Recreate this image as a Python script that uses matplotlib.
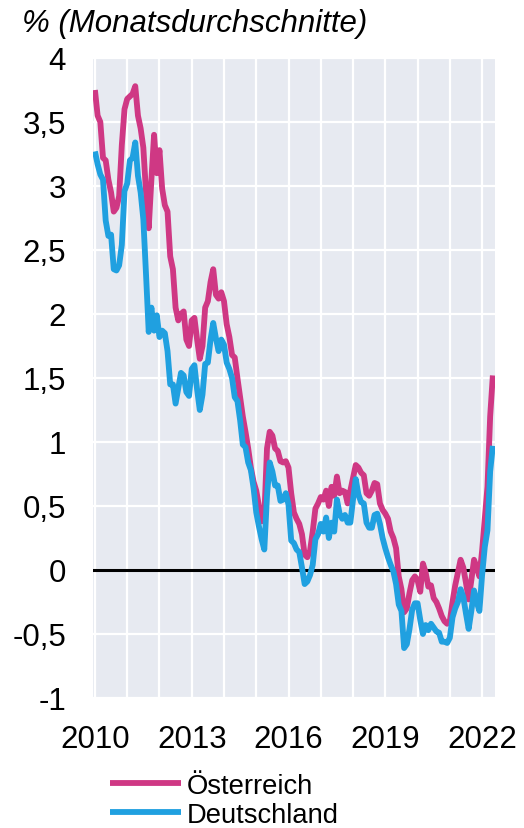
import matplotlib.pyplot as plt
import numpy as np

# Rendite 10-jähriger Staatsanleihen, Monatsdurchschnitte Jan 2010 - Mai 2022
oesterreich = [
    3.75, 3.55, 3.50, 3.22, 3.20, 3.05, 2.95, 2.80, 2.83, 2.92, 3.32, 3.60,   # 2010
    3.68, 3.70, 3.72, 3.78, 3.55, 3.45, 3.30, 2.95, 2.67, 3.05, 3.40, 3.10,   # 2011
    3.28, 2.98, 2.85, 2.80, 2.45, 2.35, 2.05, 1.95, 2.00, 2.02, 1.80, 1.75,   # 2012
    1.95, 1.97, 1.80, 1.65, 1.75, 2.05, 2.10, 2.25, 2.35, 2.15, 2.12, 2.17,   # 2013
    2.10, 1.92, 1.82, 1.68, 1.66, 1.50, 1.35, 1.20, 1.08, 0.95, 0.80, 0.69,   # 2014
    0.62, 0.50, 0.38, 0.42, 0.95, 1.08, 1.05, 0.95, 0.93, 0.85, 0.84, 0.85,   # 2015
    0.80, 0.60, 0.45, 0.40, 0.36, 0.28, 0.12, 0.10, 0.15, 0.30, 0.48, 0.52,   # 2016
    0.57, 0.55, 0.62, 0.50, 0.65, 0.58, 0.73, 0.60, 0.62, 0.61, 0.52, 0.62,   # 2017
    0.72, 0.82, 0.80, 0.76, 0.74, 0.60, 0.58, 0.62, 0.68, 0.67, 0.52, 0.47,   # 2018
    0.44, 0.40, 0.30, 0.25, 0.17, -0.05, -0.15, -0.33, -0.30, -0.18, -0.08, -0.05,  # 2019
    -0.08, -0.17, 0.05, -0.02, -0.13, -0.12, -0.22, -0.25, -0.30, -0.36, -0.40, -0.42,  # 2020
    -0.40, -0.25, -0.12, -0.02, 0.08, 0.02, -0.10, -0.23, -0.08, 0.08, 0.02, -0.05,  # 2021
    0.15, 0.40, 0.65, 1.20, 1.52,                                              # 2022
]
deutschland = [
    3.27, 3.17, 3.09, 3.05, 2.73, 2.61, 2.62, 2.35, 2.34, 2.38, 2.54, 2.96,   # 2010
    3.02, 3.20, 3.22, 3.34, 3.08, 2.95, 2.74, 2.31, 1.86, 2.05, 1.87, 1.99,   # 2011
    1.82, 1.87, 1.85, 1.71, 1.45, 1.45, 1.30, 1.42, 1.54, 1.52, 1.39, 1.36,   # 2012
    1.57, 1.60, 1.41, 1.25, 1.37, 1.61, 1.62, 1.80, 1.93, 1.81, 1.71, 1.80,   # 2013
    1.76, 1.62, 1.57, 1.50, 1.35, 1.32, 1.17, 0.98, 0.96, 0.84, 0.78, 0.64,   # 2014
    0.45, 0.34, 0.24, 0.16, 0.58, 0.84, 0.77, 0.66, 0.66, 0.54, 0.55, 0.60,   # 2015
    0.51, 0.23, 0.21, 0.16, 0.14, 0.02, -0.11, -0.09, -0.04, 0.04, 0.24, 0.28,  # 2016
    0.36, 0.30, 0.41, 0.25, 0.37, 0.30, 0.55, 0.44, 0.40, 0.43, 0.37, 0.37,   # 2017
    0.55, 0.71, 0.59, 0.53, 0.52, 0.37, 0.33, 0.33, 0.43, 0.44, 0.36, 0.25,   # 2018
    0.17, 0.10, 0.04, -0.01, -0.11, -0.27, -0.32, -0.61, -0.58, -0.46, -0.31, -0.26,  # 2019
    -0.26, -0.39, -0.50, -0.43, -0.47, -0.42, -0.45, -0.48, -0.49, -0.56, -0.56, -0.57,  # 2020
    -0.53, -0.37, -0.30, -0.25, -0.15, -0.21, -0.34, -0.46, -0.32, -0.16, -0.25, -0.32,  # 2021
    -0.04, 0.18, 0.31, 0.77, 0.97,                                             # 2022
]
start_jahr = 2010
jahre_beschriftet = [2010, 2013, 2016, 2019, 2022]
y_ticks = [4, 3.5, 3, 2.5, 2, 1.5, 1, 0.5, 0, -0.5, -1]

t = start_jahr + np.arange(len(oesterreich)) / 12.0

plt.rcParams['font.family'] = ['Liberation Sans', 'DejaVu Sans']

W, H = 524, 829
fig = plt.figure(figsize=(W / 100, H / 100), dpi=100)
ax = fig.add_axes([93 / W, (H - 699) / H, (495 - 93) / W, (699 - 59) / H])
ax.set_facecolor('#E7EAF1')
for s in ax.spines.values():
    s.set_visible(False)

ax.plot(t, oesterreich, color='#CF3884', lw=4.2, label='Österreich',
        solid_joinstyle='round', solid_capstyle='butt', zorder=3)
ax.plot(t, deutschland, color='#20A0E0', lw=4.2, label='Deutschland',
        solid_joinstyle='round', solid_capstyle='butt', zorder=4)
ax.axhline(0, color='black', lw=2.2, zorder=2)

ax.set_xlim(2009.94, 2022.40)
ax.set_ylim(-1, 4)

jahre = np.arange(2010, 2023)
ax.set_xticks(jahre)
ax.set_xticklabels([str(j) if j in jahre_beschriftet else '' for j in jahre])
ax.set_yticks(y_ticks)
ax.set_yticklabels([('%g' % v).replace('.', ',') for v in y_ticks])
ax.tick_params(axis='x', length=0, pad=18.5, labelsize=22.5)
ax.tick_params(axis='y', length=0, pad=19.5, labelsize=22.5)
ax.grid(True, color='white', lw=1.6, zorder=1)
ax.set_axisbelow(True)

fig.text(22 / W, 1 - 32 / H, '% (Monatsdurchschnitte)', fontsize=22.5,
         style='italic', va='baseline', ha='left')

fig.legend(loc='upper left', bbox_to_anchor=(110 / W, 1 - 774 / H),
           frameon=False, borderaxespad=0, borderpad=0, fontsize=19.7,
           handlelength=2.6, handletextpad=0.2, labelspacing=0.1)

fig.savefig('out.png', dpi=100)
